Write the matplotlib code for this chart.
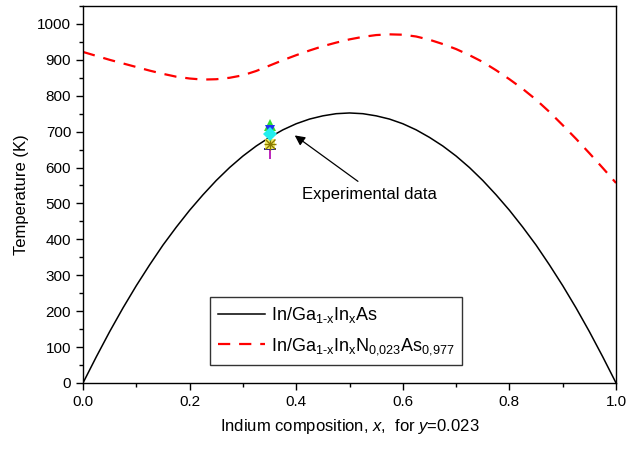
import matplotlib
matplotlib.use('Agg')
import matplotlib.pyplot as plt
from matplotlib.ticker import MultipleLocator, FormatStrFormatter

plt.rcParams['font.family'] = ['Liberation Sans', 'DejaVu Sans']
plt.rcParams['mathtext.fontset'] = 'custom'
plt.rcParams['mathtext.rm'] = 'Liberation Sans'
plt.rcParams['mathtext.it'] = 'Liberation Sans:italic'
plt.rcParams['mathtext.default'] = 'regular'

# composition grid (step 0.025)
x_vals = [0.0, 0.025, 0.05, 0.075, 0.1, 0.125, 0.15, 0.175, 0.2, 0.225,
          0.25, 0.275, 0.3, 0.325, 0.35, 0.375, 0.4, 0.425, 0.45, 0.475,
          0.5, 0.525, 0.55, 0.575, 0.6, 0.625, 0.65, 0.675, 0.7, 0.725,
          0.75, 0.775, 0.8, 0.825, 0.85, 0.875, 0.9, 0.925, 0.95, 0.975, 1.0]

# In/GaInAs critical temperature (K)
t_gainas = [0, 73, 143, 209, 271, 329, 384, 434, 481, 524,
            564, 600, 632, 660, 684, 705, 722, 735, 744, 750,
            752, 750, 744, 735, 722, 705, 684, 660, 632, 600,
            564, 524, 481, 434, 384, 329, 271, 209, 143, 73, 0]

# In/GaInNAs (y = 0.023)
t_gainnas = [922, 911, 900, 890, 880, 870, 861, 853, 848, 845,
             846, 850, 857, 869, 884, 899, 913, 926, 938, 948,
             957, 964, 969, 971, 970, 965, 956, 944, 930, 913,
             894, 871, 846, 819, 789, 755, 718, 680, 640, 599, 557]

# experimental points at x = 0.35
exp_x = 0.35
exp_green = 719
exp_blue = 705
exp_cyan = 693
exp_star = 666
exp_navy = 651
exp_magenta = 652

fig = plt.figure(figsize=(6.27, 4.5), dpi=100)
ax = fig.add_axes([0.1324, 0.149, 0.8501, 0.8377])

ax.plot(x_vals, t_gainas, color='black', lw=1.1,
        label=r'In/Ga$_{1\text{-}x}$In$_x$As')
ax.plot(x_vals, t_gainnas, color='red', lw=1.6, dashes=(5.5, 4),
        label=r'In/Ga$_{1\text{-}x}$In$_x$N$_{0{,}023}$As$_{0{,}977}$')

# experimental data markers
ax.plot(exp_x, exp_magenta, marker='|', color='#b000b0', ms=14, mew=1.2)
ax.plot(exp_x, exp_navy, marker='_', color='navy', ms=8, mew=1.2)
ax.plot(exp_x, exp_star, marker='s', color='#f5ef6a', ms=7, mew=0)
ax.plot(exp_x, exp_star, marker='x', color='#8a7a00', ms=7, mew=1)
ax.plot(exp_x, exp_star, marker='+', color='#8a7a00', ms=8, mew=1)
ax.plot(exp_x, exp_green, marker='^', color='#33dd33', ms=8, mew=0)
ax.plot(exp_x, exp_blue, marker='v', color='#2233ee', ms=7, mew=0)
ax.plot(exp_x, exp_cyan, marker='D', color='#22eeee', ms=7, mew=0)

ax.annotate('', xy=(0.393, 694), xytext=(0.52, 557),
            arrowprops=dict(arrowstyle='-|>', color='black', lw=0.9,
                            mutation_scale=15))
ax.text(0.538, 526, 'Experimental data', fontsize=12, ha='center', va='center')

ax.set_xlim(0, 1.0)
ax.set_ylim(0, 1050)
ax.xaxis.set_major_locator(MultipleLocator(0.2))
ax.xaxis.set_minor_locator(MultipleLocator(0.1))
ax.yaxis.set_major_locator(MultipleLocator(100))
ax.yaxis.set_minor_locator(MultipleLocator(50))
ax.xaxis.set_major_formatter(FormatStrFormatter('%.1f'))
ax.tick_params(which='major', direction='out', length=5, width=1, labelsize=11)
ax.tick_params(which='minor', direction='out', length=3, width=1)
for sp in ax.spines.values():
    sp.set_linewidth(1.0)

ax.set_xlabel(r'Indium composition, $\mathit{x}$,  for $\mathit{y}$=0.023',
              fontsize=12, labelpad=6)
ax.set_ylabel('Temperature (K)', fontsize=12, labelpad=6)

leg = ax.legend(loc='upper left', bbox_to_anchor=(0.335, 0.34),
                bbox_transform=fig.transFigure, fontsize=13, frameon=True,
                fancybox=False, handlelength=2.6, borderpad=0.45,
                labelspacing=0.6, handletextpad=0.3, borderaxespad=0)
leg.get_frame().set_edgecolor('black')
leg.get_frame().set_linewidth(1.0)

fig.savefig('out.png', dpi=100)
